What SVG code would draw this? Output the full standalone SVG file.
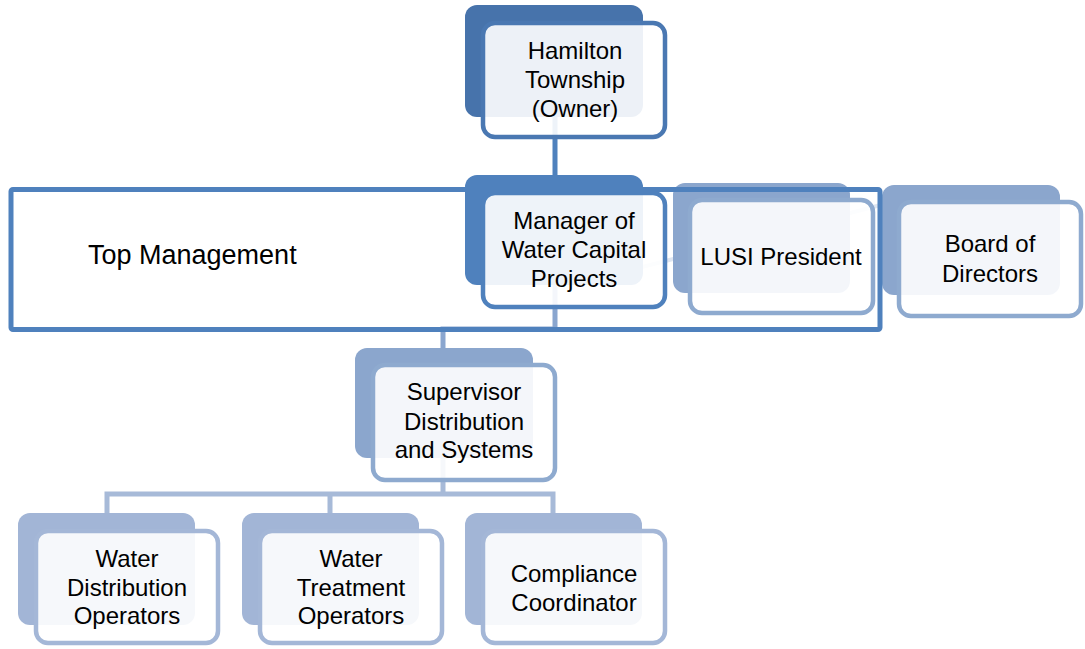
<svg xmlns="http://www.w3.org/2000/svg" width="1085" height="649" viewBox="0 0 1085 649">
<style>
text{font-family:"Liberation Sans",Arial,sans-serif;font-size:24px;fill:#000;text-anchor:middle}
.front{fill:#fff;fill-opacity:0.9;stroke-width:4.5}
.c1 .back{fill:#4773ab}.c1 .front{stroke:#4a78b2}
.c2 .back{fill:#4f81bd}.c2 .front{stroke:#4f81bd}
.c3 .back{fill:#8ba6cd}.c3 .front{stroke:#8eaacf}
.c4 .back{fill:#a2b5d6}.c4 .front{stroke:#a4b7d7}
.conn{fill:none;stroke-width:5}
</style>
<rect width="1085" height="649" fill="#fff"/>
<g id="connectors">
<line x1="600" y1="278" x2="900" y2="200" stroke="#dfe6f1" stroke-width="4"/>
<path class="conn" d="M555,70 V200" stroke="#4f81bd"/>
<path class="conn" d="M555,250 V329 H443 V360" stroke="#8aa6cf"/>
<path class="conn" d="M443,420 V494 M107,513 V494 H553 V513 M330,494 V513" stroke="#a7bad8"/>
</g>
<g id="hamilton" class="c1">
<rect class="back" x="465" y="5" width="178" height="112" rx="12"/>
<rect class="front" x="483" y="23" width="182" height="114" rx="12"/>
<text x="575" y="59">Hamilton</text>
<text x="575" y="88">Township</text>
<text x="575" y="117">(Owner)</text>
</g>
<g id="manager" class="c2">
<rect class="back" x="465" y="175" width="178" height="110" rx="12"/>
<rect class="front" x="483" y="193" width="182" height="114" rx="12"/>
<text x="574" y="229">Manager of</text>
<text x="574" y="258">Water Capital</text>
<text x="574" y="287">Projects</text>
</g>
<g id="lusi" class="c3">
<rect class="back" x="673" y="183" width="177" height="110" rx="12"/>
<rect class="front" x="690" y="200" width="183" height="113" rx="12"/>
<text x="781" y="265">LUSI President</text>
</g>
<g id="board" class="c3">
<rect class="back" x="882" y="185" width="178" height="110" rx="12"/>
<rect class="front" x="899" y="202" width="182" height="114" rx="12"/>
<text x="990" y="252">Board of</text>
<text x="990" y="282">Directors</text>
</g>
<g id="top-management">
<rect x="11" y="189.5" width="869" height="140" fill="none" stroke="#4f81bd" stroke-width="5" rx="2"/>
<text x="88" y="264" style="text-anchor:start;font-size:27px">Top Management</text>
</g>
<g id="supervisor" class="c3">
<rect class="back" x="355" y="348" width="178" height="110" rx="12"/>
<rect class="front" x="373" y="365" width="182" height="115" rx="12"/>
<text x="464" y="400">Supervisor</text>
<text x="464" y="430">Distribution</text>
<text x="464" y="458">and Systems</text>
</g>
<g id="water-distribution" class="c4">
<rect class="back" x="18" y="513" width="177" height="112" rx="12"/>
<rect class="front" x="36" y="531" width="182" height="112" rx="12"/>
<text x="127" y="567">Water</text>
<text x="127" y="596">Distribution</text>
<text x="127" y="624">Operators</text>
</g>
<g id="water-treatment" class="c4">
<rect class="back" x="242" y="513" width="177" height="112" rx="12"/>
<rect class="front" x="260" y="531" width="182" height="112" rx="12"/>
<text x="351" y="567">Water</text>
<text x="351" y="596">Treatment</text>
<text x="351" y="624">Operators</text>
</g>
<g id="compliance" class="c4">
<rect class="back" x="465" y="513" width="177" height="112" rx="12"/>
<rect class="front" x="483" y="531" width="182" height="112" rx="12"/>
<text x="574" y="582">Compliance</text>
<text x="574" y="611">Coordinator</text>
</g>
</svg>
